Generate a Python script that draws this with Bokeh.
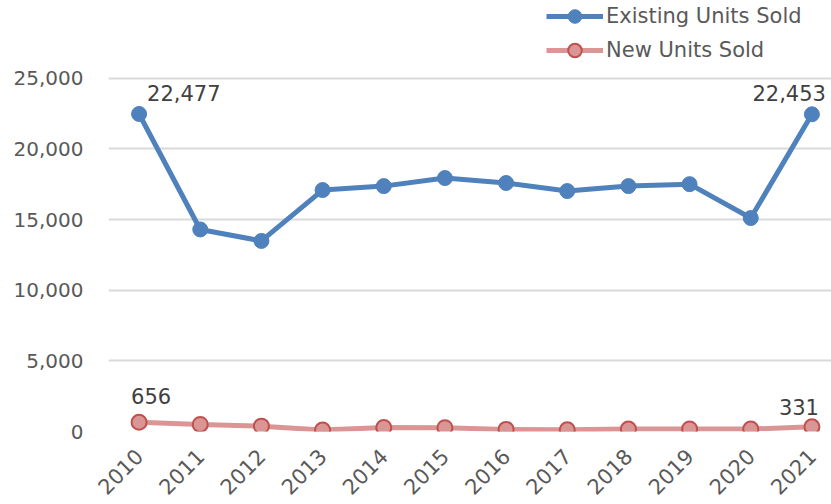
import math
from bokeh.plotting import figure
from bokeh.models import (ColumnDataSource, FixedTicker, NumeralTickFormatter,
                          Range1d, Legend, LegendItem)
from bokeh.core.properties import value
from bokeh.embed import file_html
from bokeh.resources import INLINE

# Annual unit sales
years = [2010, 2011, 2012, 2013, 2014, 2015, 2016, 2017, 2018, 2019, 2020, 2021]
existing_units = [22477, 14300, 13490, 17090, 17370, 17940, 17590, 17020, 17370, 17510, 15110, 22453]
new_units = [656, 500, 380, 100, 280, 270, 150, 120, 170, 180, 170, 331]
y_ticks = [0, 5000, 10000, 15000, 20000, 25000]

FONT = "DejaVu Sans"
TICK_COLOR = "#595959"
LABEL_COLOR = "#404040"
BLUE = "#4F81BD"
PINK = "#D99694"
RED_EDGE = "#C0504D"

p = figure(width=831, height=504, output_backend="svg", toolbar_location=None,
           x_range=Range1d(2009.5, 2021.32), y_range=Range1d(0, 30508),
           min_border_left=108, min_border_right=0, min_border_top=0,
           min_border_bottom=72)
p.outline_line_color = None
p.background_fill_color = "white"
p.border_fill_color = "white"

# axes
p.xaxis.ticker = FixedTicker(ticks=years)
p.xaxis.major_label_orientation = math.pi / 4
p.xaxis.axis_line_color = None
p.xaxis.major_tick_line_color = None
p.xaxis.minor_tick_line_color = None
p.xaxis.major_label_text_font = FONT
p.xaxis.major_label_text_font_size = "21px"
p.xaxis.major_label_text_color = TICK_COLOR
p.xaxis.major_label_standoff = 15

p.yaxis.ticker = FixedTicker(ticks=y_ticks)
p.yaxis.formatter = NumeralTickFormatter(format="0,0")
p.yaxis.axis_line_color = None
p.yaxis.major_tick_line_color = None
p.yaxis.minor_tick_line_color = None
p.yaxis.major_label_text_font = FONT
p.yaxis.major_label_text_font_size = "20px"
p.yaxis.major_label_text_color = TICK_COLOR
p.yaxis.major_label_standoff = 19

p.xgrid.grid_line_color = None
p.ygrid.ticker = FixedTicker(ticks=y_ticks)
p.ygrid.grid_line_color = "#D9D9D9"
p.ygrid.grid_line_width = 2

src = ColumnDataSource(dict(year=years, existing=existing_units, new=new_units))

l1 = p.line("year", "existing", source=src, line_color=BLUE, line_width=5)
s1 = p.scatter("year", "existing", source=src, size=15, fill_color=BLUE,
               line_color=BLUE)
l2 = p.line("year", "new", source=src, line_color=PINK, line_width=5)
s2 = p.scatter("year", "new", source=src, size=15, fill_color=PINK,
               line_color=RED_EDGE, line_width=2)

# value labels on the first and last points
def label(i, series, x_off, y_off, align):
    p.text(x=[years[i]], y=[series[i]], text=[f"{series[i]:,}"],
           x_offset=x_off, y_offset=y_off, text_align=align,
           text_baseline="middle", text_font=value(FONT),
           text_font_size="21px", text_color=LABEL_COLOR)

label(0, existing_units, 8, -21, "left")
label(len(years) - 1, existing_units, 14, -21, "right")
label(0, new_units, 12, -26, "center")
label(len(years) - 1, new_units, -13, -20, "center")

legend = Legend(items=[LegendItem(label="Existing Units Sold", renderers=[l1, s1]),
                       LegendItem(label="New Units Sold", renderers=[l2, s2])],
                location=(438, 364))
legend.background_fill_alpha = 0
legend.border_line_color = None
legend.label_text_font = FONT
legend.label_text_font_size = "21px"
legend.label_text_color = TICK_COLOR
legend.glyph_width = 57
legend.glyph_height = 34
legend.label_standoff = 3
legend.spacing = -2
legend.padding = 0
legend.margin = 0
p.add_layout(legend)

open("out.html", "w").write(file_html(p, INLINE))
